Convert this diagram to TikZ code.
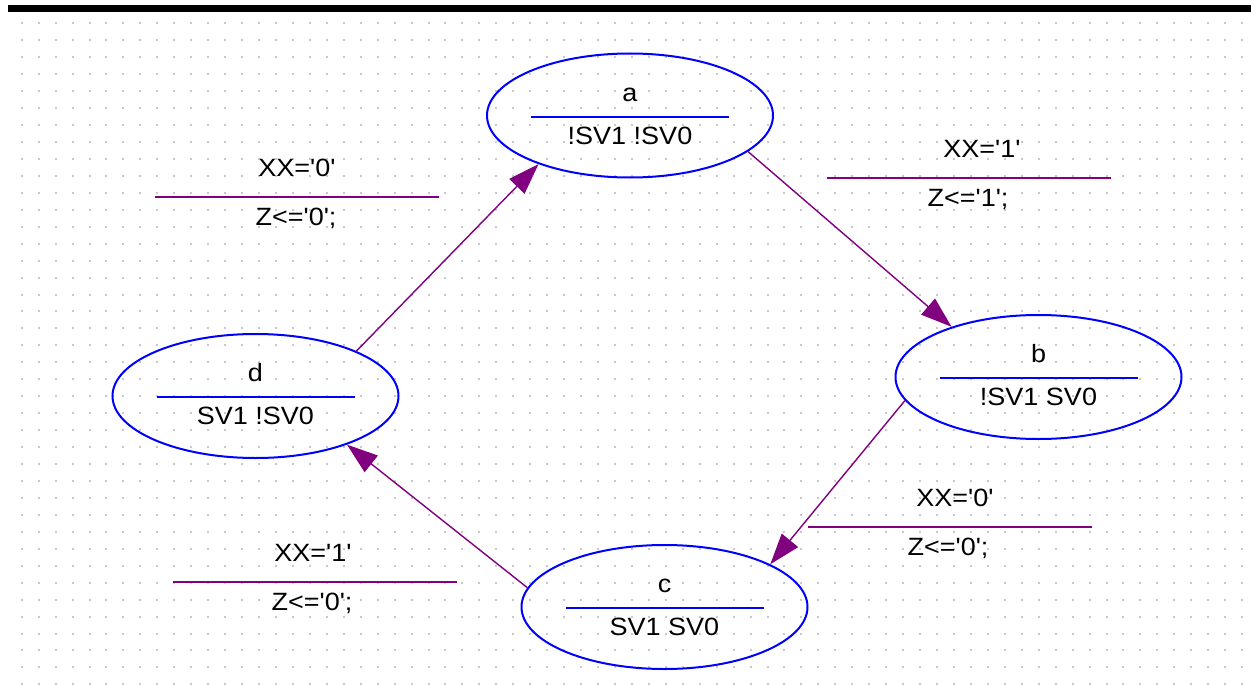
\documentclass[tikz,border=0pt]{standalone}
\usepackage{fontspec}
\setmainfont[Ligatures=TeXOff]{Liberation Sans}
\usetikzlibrary{shapes.geometric,arrows.meta,calc}
\definecolor{pur}{RGB}{128,0,128}
\definecolor{dotc}{RGB}{200,200,200}
\begin{document}
\begin{tikzpicture}[x=1pt,y=-1pt,
  state/.style={ellipse,draw=blue,line width=2pt,minimum width=286pt,minimum height=124pt,inner sep=0pt},
  txt/.style={font=\fontsize{25}{29}\selectfont,anchor=base,inner sep=0pt,xscale=1.08,transform shape},
  tr/.style={draw=pur,line width=1.4pt,-{Triangle[length=31pt,width=21pt]}},
  sep/.style={draw=pur,line width=2pt},
  divl/.style={draw=blue,line width=2pt}]
\useasboundingbox (0,0) rectangle (1251,685);
\fill[white] (0,0) rectangle (1251,685);
\foreach \i in {0,...,72}{\foreach \j in {0,...,39}{\fill[dotc] (20.7+16.95*\i,22.3+16.95*\j) rectangle ++(2,2);}}
\fill[black] (8,5.5) rectangle (1251,12.5);
% states
\node[state] (a) at (630,115.5) {};
\node[state] (b) at (1038.5,377) {};
\node[state] (c) at (664.5,607) {};
\node[state] (d) at (255.5,396) {};
\foreach \s/\t/\l in {a/a/!SV1 !SV0, b/b/!SV1 SV0, c/c/SV1 SV0, d/d/SV1 !SV0}{
  \node[txt] (\s-name) at ([yshift=14.5pt]\s.center) {\t};
  \node[txt] (\s-out) at ([yshift=-28.5pt]\s.center) {\l};
  \draw[divl] ([xshift=-99pt,yshift=-1pt]\s.center) -- ([xshift=99pt,yshift=-1pt]\s.center);
}
% transitions
\draw[tr] (a.-17) -- (b.150.5);
\draw[tr] (b.-170.3) -- (c.22.2);
\draw[tr] (c.172.9) -- (d.-28.8);
\draw[tr] (d.24.3) -- (a.-152.2);
% labels
\coordinate (ab) at (969,178);
\draw[sep] ([xshift=-142pt]ab) -- ([xshift=142pt]ab);
\node[txt] (ab-g) at (982,157) {XX='1'};
\node[txt] (ab-a) at (968,206) {Z<='1';};
\coordinate (bc) at (949.5,527);
\draw[sep] ([xshift=-142pt]bc) -- ([xshift=142pt]bc);
\node[txt] (bc-g) at (955,506) {XX='0'};
\node[txt] (bc-a) at (948,555) {Z<='0';};
\coordinate (cd) at (315,582);
\draw[sep] ([xshift=-142pt]cd) -- ([xshift=142pt]cd);
\node[txt] (cd-g) at (313,561) {XX='1'};
\node[txt] (cd-a) at (312,610) {Z<='0';};
\coordinate (da) at (296.5,197);
\draw[sep] ([xshift=-142pt]da) -- ([xshift=142pt]da);
\node[txt] (da-g) at (297,176) {XX='0'};
\node[txt] (da-a) at (296,225) {Z<='0';};
\end{tikzpicture}
\end{document}
